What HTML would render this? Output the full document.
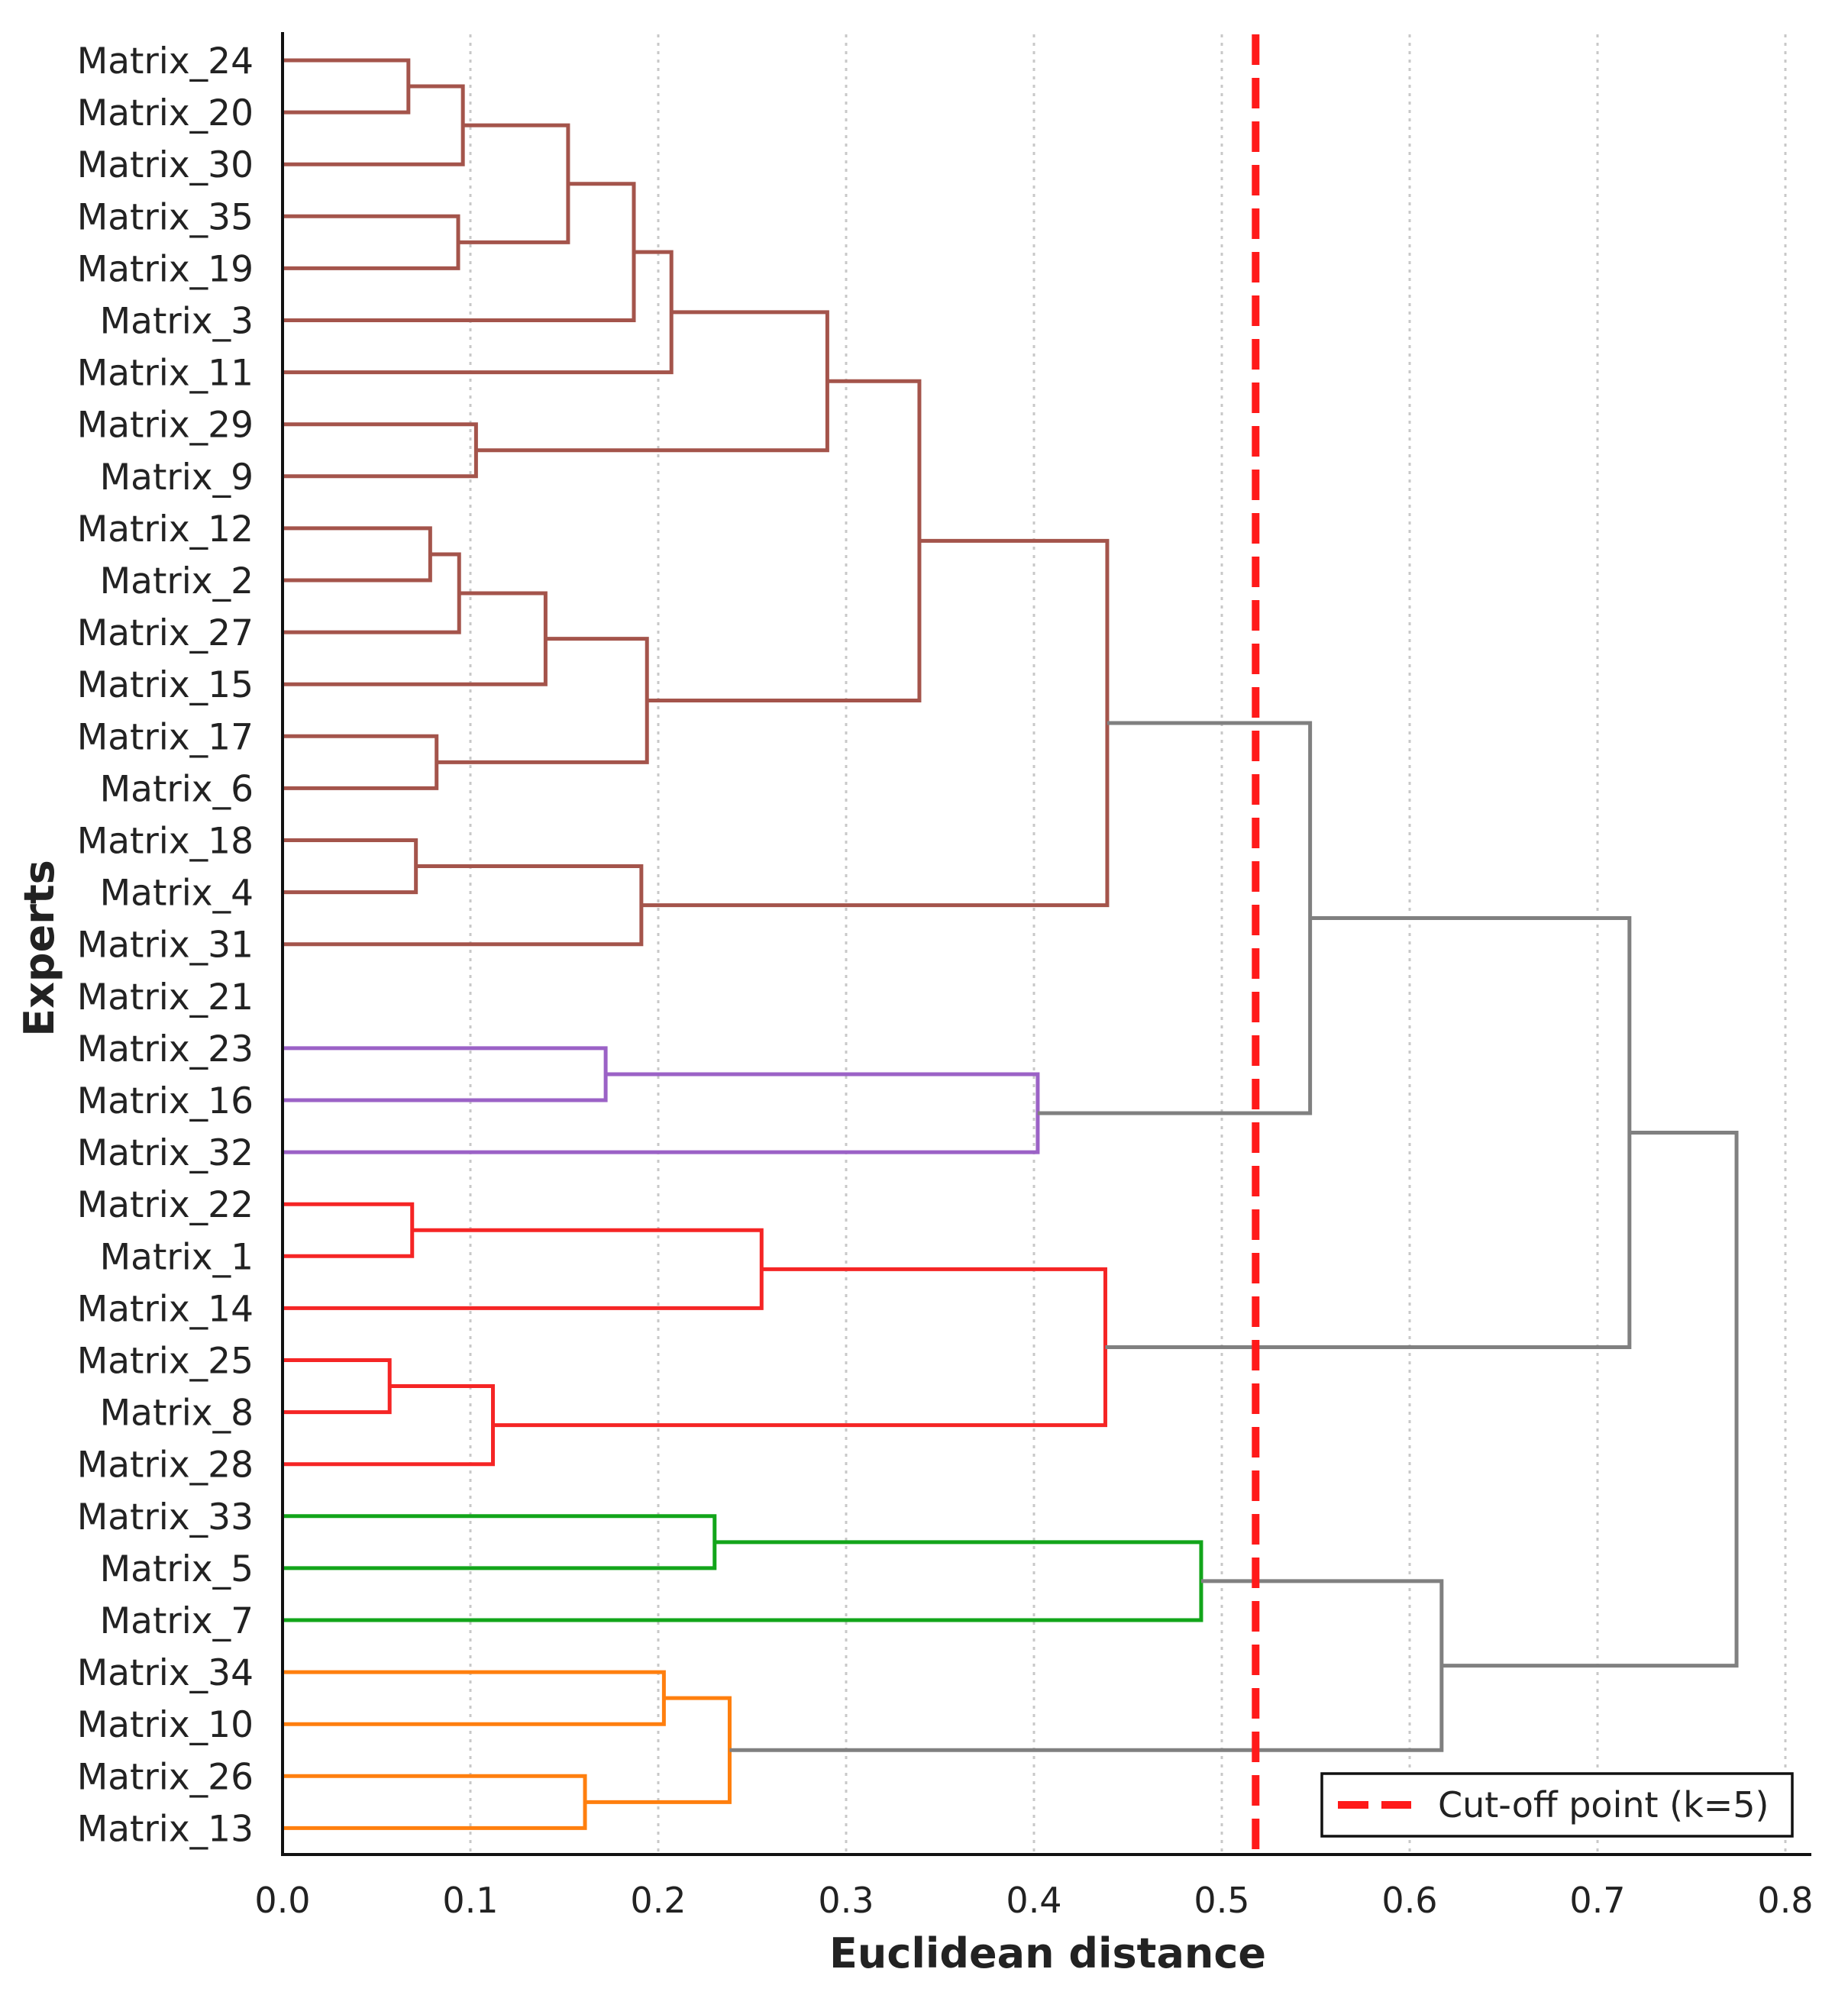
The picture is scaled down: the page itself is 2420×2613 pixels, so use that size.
<!DOCTYPE html>
<html><head><meta charset="utf-8">
<style>
html,body{margin:0;padding:0;background:#fff;}
svg{display:block;font-family:"DejaVu Sans","Liberation Sans",sans-serif;}
</style></head>
<body>
<svg id="chart" width="2420" height="2613" viewBox="0 0 2420 2613" xmlns="http://www.w3.org/2000/svg">
<g id="grid"></g>
<g id="links"></g>
<g id="ylabels"></g>
<g id="xticks"></g>
<line id="cut" stroke="#ff1a1a" stroke-width="10" stroke-dasharray="40,17"/>
<line x1="370" y1="42" x2="370" y2="2431" stroke="#111" stroke-width="4"/>
<line x1="368" y1="2429" x2="2372" y2="2429" stroke="#111" stroke-width="4"/>
<text x="1372" y="2577" text-anchor="middle" font-size="54" font-weight="bold" fill="#222">Euclidean distance</text>
<text transform="translate(70,1242) rotate(-90)" text-anchor="middle" font-size="54" font-weight="bold" fill="#222">Experts</text>
<g>
<rect x="1731" y="2323" width="616" height="82" fill="#fff" stroke="#111" stroke-width="3.5"/>
<line x1="1752" y1="2364" x2="1848" y2="2364" stroke="#ff1a1a" stroke-width="10" stroke-dasharray="40,17"/>
<text x="1883" y="2380" font-size="46" fill="#222">Cut-off point (k=5)</text>
</g>
</svg>
<script>
const leaves = ["Matrix_24","Matrix_20","Matrix_30","Matrix_35","Matrix_19","Matrix_3","Matrix_11","Matrix_29","Matrix_9","Matrix_12","Matrix_2","Matrix_27","Matrix_15","Matrix_17","Matrix_6","Matrix_18","Matrix_4","Matrix_31","Matrix_21","Matrix_23","Matrix_16","Matrix_32","Matrix_22","Matrix_1","Matrix_14","Matrix_25","Matrix_8","Matrix_28","Matrix_33","Matrix_5","Matrix_7","Matrix_34","Matrix_10","Matrix_26","Matrix_13"];
// merges: children "L<i>" = leaf index, "N<i>" = earlier merge index
const mergeLeft  = ["L0","N0","L3","N1","N3","N4","L7","N5","L9","N8","N9","L13","N10","N7","L15","N14","N13","L19","N17","N16","L22","N20","L25","N22","N21","N19","L28","N26","L31","L33","N28","N27","N25"];
const mergeRight = ["L1","L2","L4","N2","L5","L6","L8","N6","L10","L11","L12","L14","N11","N12","L16","L17","N15","L20","L21","N18","L23","L24","L26","L27","N23","N24","L29","L30","L32","L34","N29","N30","N31"];
const mergeHeight= [0.067,0.096,0.0935,0.152,0.187,0.207,0.103,0.290,0.0786,0.094,0.140,0.082,0.194,0.339,0.071,0.191,0.439,0.172,0.402,0.547,0.069,0.255,0.057,0.112,0.438,0.717,0.230,0.489,0.203,0.161,0.238,0.617,0.774];
const mergeColor = ["b","b","b","b","b","b","b","b","b","b","b","b","b","b","b","b","b","p","p","g","r","r","r","r","r","g","G","G","o","o","o","g","g"];
const xTicks = [0.0,0.1,0.2,0.3,0.4,0.5,0.6,0.7,0.8];
const xTickLabels = ["0.0","0.1","0.2","0.3","0.4","0.5","0.6","0.7","0.8"];
const cutoff = 0.518;
</script>
<script>
const NS="http://www.w3.org/2000/svg";
const colors={b:"#a4544b",p:"#9b62c6",r:"#f52525",G:"#12a51a",o:"#ff7f0e",g:"#808080"};
const X0=370, XS=2460, Y0=79, YS=68.1;
const xs=v=>X0+v*XS, ys=i=>Y0+i*YS;
function mk(tag,attrs,parent){const e=document.createElementNS(NS,tag);for(const k in attrs)e.setAttribute(k,attrs[k]);parent.appendChild(e);return e;}
const grid=document.getElementById('grid');
xTicks.forEach((t,i)=>{
  if(t>0){const l=mk('line',{x1:xs(t),x2:xs(t),y1:45,y2:2427,stroke:'#c8c8c8','stroke-width':3,'stroke-dasharray':'4,7'},grid);
  
  }
  const tx=mk('text',{x:xs(t),y:2505,'text-anchor':'middle','font-size':46,fill:'#222'},document.getElementById('xticks'));
  tx.textContent=xTickLabels[i];
  
  
});
const yl=document.getElementById('ylabels');
leaves.forEach((n,i)=>{
  const t=mk('text',{x:332,y:ys(i)+17,'text-anchor':'end','font-size':47,fill:'#222'},yl);
  t.textContent=n;
  
  
});
const nodes=[];
function pos(ref){
  if(ref[0]==='L') return {y:ys(+ref.slice(1)),h:0};
  return nodes[+ref.slice(1)];
}
const lg=document.getElementById('links');
for(let i=0;i<mergeHeight.length;i++){
  const a=pos(mergeLeft[i]), b=pos(mergeRight[i]);
  const h=mergeHeight[i];
  nodes[i]={y:(a.y+b.y)/2,h:h};
  const p=mk('path',{d:`M${xs(a.h)},${a.y}H${xs(h)}V${b.y}H${xs(b.h)}`,fill:'none',stroke:colors[mergeColor[i]],'stroke-width':5,'stroke-linejoin':'miter'},lg);
  
  
}
const cut=document.getElementById('cut');
cut.setAttribute('x1',xs(cutoff));cut.setAttribute('x2',xs(cutoff));
cut.setAttribute('y1',45);cut.setAttribute('y2',2429);
</script>
</body></html>
